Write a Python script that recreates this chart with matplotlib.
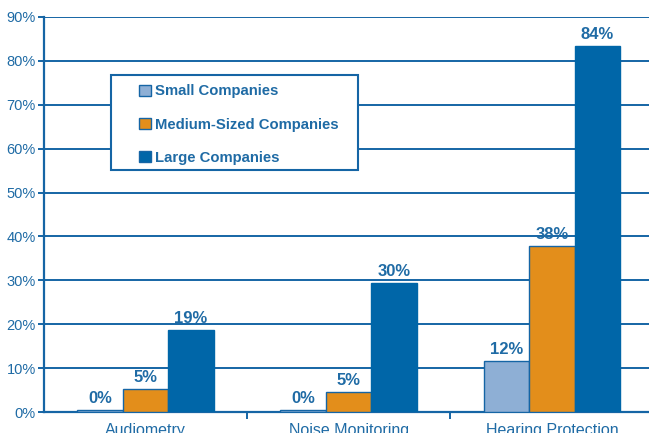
import matplotlib.pyplot as plt
import numpy as np
from matplotlib.patches import Rectangle

plt.rcParams["font.family"] = ["Liberation Sans", "DejaVu Sans"]

categories = ["Audiometry", "Noise Monitoring", "Hearing Protection"]
series = ["Small Companies", "Medium-Sized Companies", "Large Companies"]
small = [0.5, 0.5, 11.6]
medium = [5.2, 4.6, 37.8]
large = [18.7, 29.4, 83.4]
labels = [["0%", "0%", "12%"], ["5%", "5%", "38%"], ["19%", "30%", "84%"]]

colors = ["#8EAFD5", "#E38E1B", "#0066A8"]
blue = "#1565A5"
text_blue = "#1F6BA5"

W, H = 649, 433
fig = plt.figure(figsize=(W / 100, H / 100), dpi=100)
ax = fig.add_axes([44 / W, 21 / H, 1 - 44 / W, 395 / H])

x = np.arange(len(categories))
w = 0.224
for i, (vals, col) in enumerate(zip([small, medium, large], colors)):
    pos = x + (i - 1) * w
    ax.bar(pos, vals, w, color=col, edgecolor=blue if i < 2 else col,
           linewidth=1.0, label=series[i], zorder=3)
    for p, v, t in zip(pos, vals, labels[i]):
        ax.text(p, max(v, 0.3) + 0.9, t, ha="center", va="bottom", fontsize=12,
                fontweight="bold", color=text_blue)

ax.set_ylim(0, 90)
ax.set_xlim(-0.5, 2.478)
ax.set_yticks(np.arange(0, 91, 10))
ax.set_yticklabels([f"{v}%" for v in range(0, 91, 10)], fontsize=10.5, color=text_blue)
ax.yaxis.grid(True, color=blue, linewidth=1.4, zorder=0)
ax.set_axisbelow(True)

ax.set_xticks([0.5, 1.5], minor=False)
ax.set_xticklabels([])
ax.set_xticks(x, minor=True)
ax.set_xticklabels(categories, minor=True, fontsize=11.5, color=text_blue)
ax.tick_params(axis="x", which="minor", length=0, pad=8)
ax.tick_params(axis="x", which="major", length=5, width=1.4, color=blue)
ax.tick_params(axis="y", length=4, width=1.4, color=blue, pad=2)

for s in ["top", "right"]:
    ax.spines[s].set_visible(False)
for s in ["left", "bottom"]:
    ax.spines[s].set_color(blue)
    ax.spines[s].set_linewidth(1.6)

# legend box drawn separately so it can match the reference size
box = Rectangle((111 / W, 1 - 170 / H), 247 / W, 95 / H, transform=fig.transFigure,
                facecolor="white", edgecolor=blue, linewidth=1.5, zorder=4)
ax.add_patch(box)

leg = ax.legend(loc="upper left", bbox_to_anchor=(135 / W, 1 - 80 / H),
                bbox_transform=fig.transFigure, fontsize=10.7, frameon=False,
                handlelength=0.75, handleheight=0.75, borderpad=0.3,
                labelspacing=1.3, handletextpad=0.3, borderaxespad=0)
leg.set_zorder(5)
for t in leg.get_texts():
    t.set_color(text_blue)
    t.set_fontweight("bold")
for h in leg.legend_handles:
    h.set_edgecolor(blue)

fig.savefig("out.png", dpi=100)
